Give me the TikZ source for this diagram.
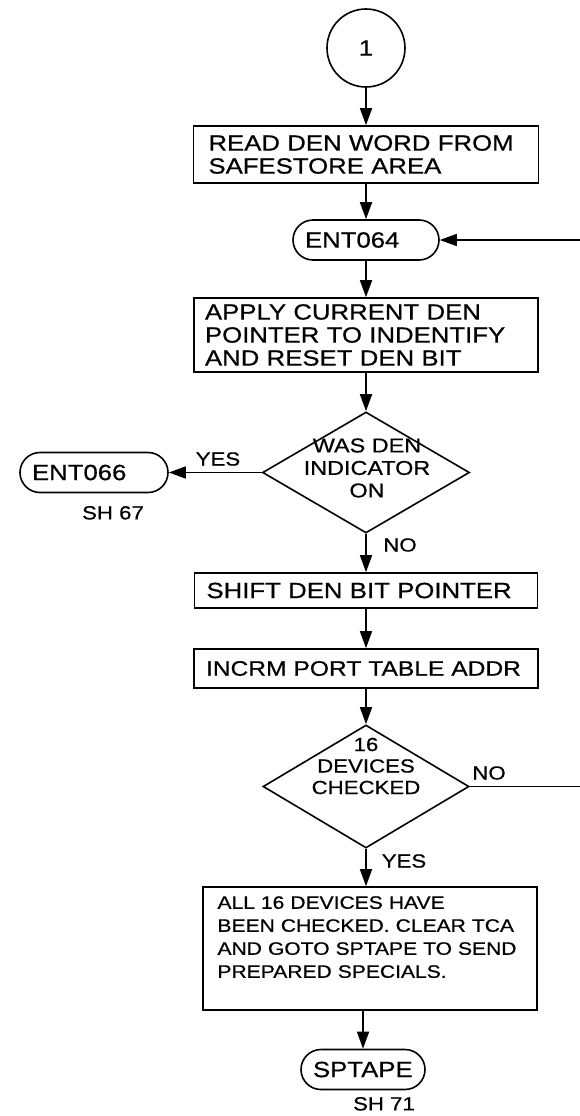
\documentclass[tikz,border=0pt]{standalone}
\usepackage{fontspec}
\setmainfont{Liberation Sans}[FakeStretch=1.17, FakeBold=0.6]
\usepackage{tikz}
\usetikzlibrary{shapes.geometric,arrows.meta,positioning}

\begin{document}
\begin{tikzpicture}[
  x=1pt, y=-1pt,
  line width=1.6pt,
  font=\fontsize{22}{23}\selectfont,
  box/.style={rectangle, draw, align=left, inner xsep=12pt, inner ysep=0pt},
  term/.style={rectangle, rounded corners=20pt, draw, align=left, inner xsep=12pt, inner ysep=0pt, minimum height=40pt},
  dec/.style={diamond, draw, inner sep=0pt, minimum width=207pt, minimum height=121pt},
  lbl/.style={inner sep=0pt, font=\fontsize{19}{22}\selectfont},
  arr/.style={-{Triangle[length=17pt, width=12pt]}}
]
\useasboundingbox (0,0) rectangle (579,1116);
\node[circle, draw, minimum size=78pt, inner sep=0pt] (a) at (366,48) {1};
\node[box, text width=315pt, inner xsep=15pt, minimum height=57pt] (b) at (366,154.5) {READ DEN WORD FROM\\SAFESTORE AREA};
\node[term, text width=122pt] (c) at (366,240) {ENT064};
\node[box, text width=322pt, inner xsep=11pt, minimum height=74pt] (d) at (366,335) {APPLY CURRENT DEN\\POINTER TO INDENTIFY\\AND RESET DEN BIT};
\node[dec] (e) at (366,472.5) {};
\node[font=\fontsize{20}{22.5}\selectfont, align=center, inner sep=0pt] (e1) at (367,468) {WAS DEN\\INDICATOR\\ON};
\node[term, text width=124pt] (f) at (94,472.5) {ENT066};
\node[lbl, below=12pt of f, xshift=19pt] (f1) {SH 67};
\node[lbl] (y1) at (218,459) {YES};
\node[lbl] (n1) at (400,545) {NO};
\node[box, text width=319pt, minimum height=35pt] (g) at (366,590.5) {SHIFT DEN BIT POINTER};
\node[box, text width=320pt, minimum height=39pt, font=\fontsize{21}{23}\selectfont] (h) at (366,668.5) {INCRM PORT TABLE ADDR};
\node[dec, minimum width=206pt, minimum height=123pt] (i) at (366,786.5) {};
\node[font=\fontsize{19}{21.5}\selectfont, align=center, inner sep=0pt] (i1) at (366,766) {16\\DEVICES\\CHECKED};
\node[lbl] (n2) at (489,773) {NO};
\node[lbl] (y2) at (404,861) {YES};
\node[box, text width=305pt, inner xsep=14.5pt, minimum height=123pt, font=\fontsize{18}{23}\selectfont] (j) at (370,948.5) {ALL 16 DEVICES HAVE\\BEEN CHECKED. CLEAR TCA\\AND GOTO SPTAPE TO SEND\\PREPARED SPECIALS.\\\mbox{}};
\node[term, text width=100pt] (k) at (363,1069.5) {SPTAPE};
\node[lbl, below=6pt of k, xshift=21pt] (k1) {SH 71};
\draw[arr] (a) -- (b);
\draw[arr] (b) -- (c);
\draw[arr] (c) -- (d);
\draw[arr] (d) -- (e);
\draw[arr] (e) -- (f);
\draw[arr] (e) -- (g);
\draw[arr] (g) -- (h);
\draw[arr] (h) -- (i);
\draw[arr] (i.south) -- (i.south |- j.north);
\draw[arr] (k.north |- j.south) -- (k.north);
\draw[arr] (i.east) -- ++(140,0) |- (c.east);
\end{tikzpicture}
\end{document}
